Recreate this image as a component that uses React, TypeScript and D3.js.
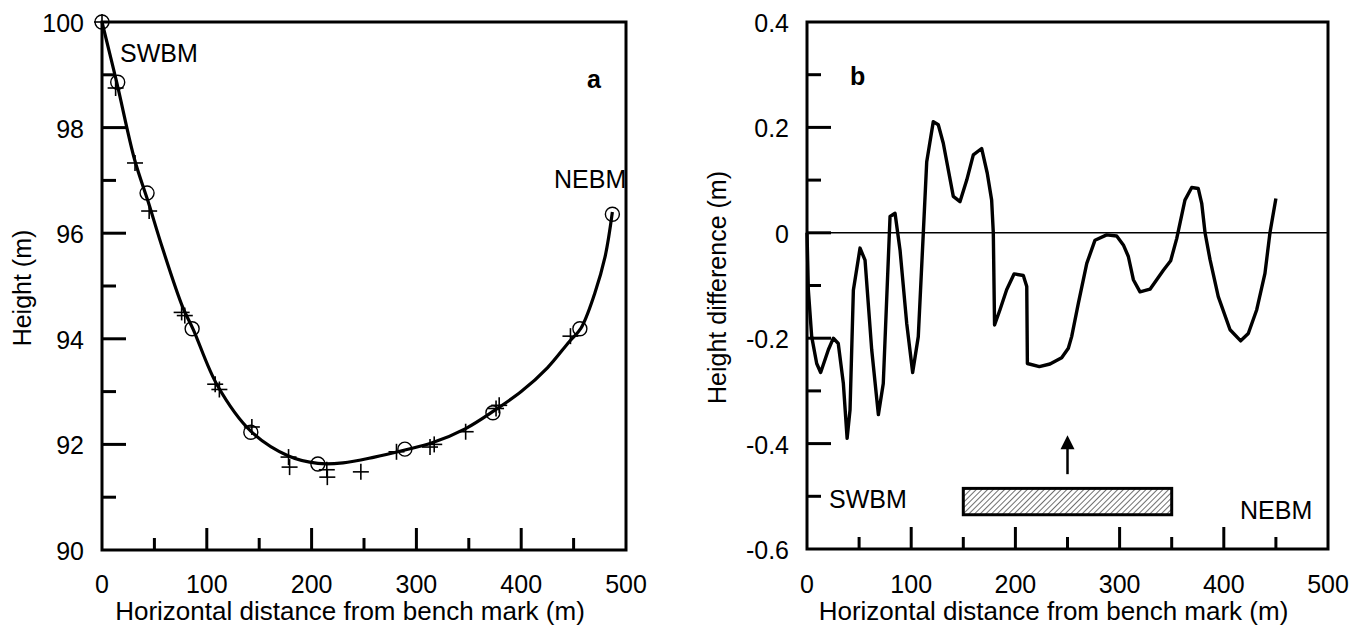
import React from "react";
import * as d3 from "d3";

// ---------- data ----------
const xTickValues = [0, 100, 200, 300, 400, 500];
const xMinorValues = [50, 150, 250, 350, 450];
const aYTickValues = [90, 92, 94, 96, 98, 100];
const aYMinorValues = [91, 93, 95, 97, 99];
const bYTickValues = [-0.6, -0.4, -0.2, 0, 0.2, 0.4];
const bYMinorValues = [-0.5, -0.3, -0.1, 0.1, 0.3];
const bYTickLabels = ["-0.6", "-0.4", "-0.2", "0", "0.2", "0.4"];

// panel a: surveyed heights (circles)
const aCircleX = [0, 15, 43, 86, 142, 206, 289, 373, 456, 487];
const aCircleY = [100, 98.86, 96.76, 94.19, 92.23, 91.63, 91.91, 92.6, 94.19, 96.36];

// panel a: levelled heights (crosses)
const aCrossX = [0, 13, 31.5, 45, 76, 79, 108, 112, 143, 178, 179, 214.5, 215, 247, 281, 313, 317, 347, 376, 379, 447];
const aCrossY = [100, 98.75, 97.33, 96.42, 94.5, 94.44, 93.14, 93.04, 92.33, 91.76, 91.57, 91.52, 91.38, 91.48, 91.86, 91.95, 92.0, 92.24, 92.68, 92.74, 94.05];

// panel a: fitted profile
const aFitX = [0, 14, 31, 44, 58, 77, 87, 110, 142, 178, 206, 230, 260, 290, 315, 347, 375, 400, 425, 446, 457, 470, 480, 487];
const aFitY = [100, 98.86, 97.4, 96.6, 95.7, 94.6, 94.18, 93.12, 92.25, 91.78, 91.64, 91.65, 91.76, 91.9, 92.03, 92.3, 92.65, 93.0, 93.45, 93.95, 94.2, 94.85, 95.55, 96.4];

// panel b: height difference
const bX = [0, 1.3, 4.5, 9.3, 13.1, 20.5, 25.3, 30, 34.9, 38.5, 41.3, 44.5, 50.9, 55.7, 62.1, 68.5, 73.2, 79.7, 84.5, 89.3, 95.7, 101.4, 106.8, 111.6, 114.9, 121.2, 126, 130.8, 140.4, 146.8, 153.3, 159.6, 167.6, 173, 177.2, 178.8, 180, 185.2, 191.6, 198.7, 207.6, 210.9, 211.5, 223, 233.2, 244.4, 250.8, 254, 260.4, 268.5, 276.4, 287.6, 297.2, 303.6, 308.4, 313.2, 319.6, 329.2, 342, 349, 354.8, 362.7, 369.2, 375.5, 378.8, 382, 386.8, 394.7, 406, 416.2, 423.5, 431.6, 439.5, 444.3, 450];
const bY = [0, -0.109, -0.197, -0.248, -0.265, -0.222, -0.2, -0.21, -0.286, -0.39, -0.336, -0.109, -0.029, -0.052, -0.222, -0.345, -0.286, 0.031, 0.037, -0.033, -0.172, -0.265, -0.197, -0.001, 0.135, 0.211, 0.205, 0.17, 0.069, 0.059, 0.1, 0.148, 0.16, 0.113, 0.062, 0.0, -0.175, -0.146, -0.108, -0.078, -0.081, -0.102, -0.248, -0.254, -0.249, -0.237, -0.219, -0.197, -0.134, -0.058, -0.014, -0.004, -0.006, -0.023, -0.045, -0.089, -0.112, -0.107, -0.071, -0.053, -0.011, 0.062, 0.086, 0.084, 0.056, 0.0, -0.051, -0.121, -0.184, -0.205, -0.191, -0.146, -0.077, 0.0, 0.065];

// panel b: annotation box and arrow (data units)
const boxX = [150, 350];
const boxY = [-0.485, -0.535];
const arrowX = 250;
const arrowY = [-0.458, -0.384];

// ---------- drawing ----------
const FONT = "'Liberation Sans', Arial, Helvetica, sans-serif";
const FS = 25;

function Frame({ x, y, xTicks, xMinor, yTicks, yMinor, yLabels, yTitle, yTitleX }: any) {
  const [x0, x1] = x.range();
  const [y0, y1] = y.range(); // y0 bottom, y1 top
  return (
    <g>
      <rect x={x0} y={y1} width={x1 - x0} height={y0 - y1} fill="none" stroke="#000" strokeWidth={3} />
      {xTicks.slice(1, -1).map((t: number) => (
        <line key={"xt" + t} x1={x(t)} x2={x(t)} y1={y0} y2={y0 - 22} stroke="#000" strokeWidth={3} />
      ))}
      {xMinor.map((t: number) => (
        <line key={"xm" + t} x1={x(t)} x2={x(t)} y1={y0} y2={y0 - 12} stroke="#000" strokeWidth={3} />
      ))}
      {yTicks.slice(1, -1).map((t: number) => (
        <line key={"yt" + t} x1={x0} x2={x0 + 24} y1={y(t)} y2={y(t)} stroke="#000" strokeWidth={3} />
      ))}
      {yMinor.map((t: number) => (
        <line key={"ym" + t} x1={x0} x2={x0 + 14} y1={y(t)} y2={y(t)} stroke="#000" strokeWidth={3} />
      ))}
      {xTicks.map((t: number) => (
        <text key={"xl" + t} x={x(t)} y={593} textAnchor="middle" fontSize={FS} fontFamily={FONT}>{t}</text>
      ))}
      {yTicks.map((t: number, i: number) => (
        <text key={"yl" + t} x={x0 - 18} y={y(t) + 10} textAnchor="end" fontSize={FS} fontFamily={FONT}>{yLabels[i]}</text>
      ))}
      <text x={(x0 + x1) / 2 - 14} y={620} textAnchor="middle" fontSize={26} fontFamily={FONT}>
        Horizontal distance from bench mark (m)
      </text>
      <text transform={`translate(${yTitleX},${(y0 + y1) / 2 + 2}) rotate(-90)`} textAnchor="middle" fontSize={FS} fontFamily={FONT}>
        {yTitle}
      </text>
    </g>
  );
}

export default function App() {
  const ax = d3.scaleLinear().domain([0, 500]).range([102, 626]);
  const ay = d3.scaleLinear().domain([90, 100]).range([550, 22]);
  const bx = d3.scaleLinear().domain([0, 500]).range([807, 1328]);
  const by = d3.scaleLinear().domain([-0.6, 0.4]).range([549, 22]);

  const fitLine = d3.line<number>()
    .x((_, i) => ax(aFitX[i]))
    .y((d) => ay(d))
    .curve(d3.curveCatmullRom.alpha(0.5));
  const bLine = d3.line<number>()
    .x((_, i) => bx(bX[i]))
    .y((d) => by(d))
    .curve(d3.curveLinear);

  const ah = by(arrowY[1]);
  const ax0 = bx(arrowX);

  return (
    <svg width={1364} height={628} style={{ position: "absolute", left: 0, top: 0, background: "#fff" }}>
      <defs>
        <pattern id="hatch" patternUnits="userSpaceOnUse" width={4} height={4} patternTransform="rotate(45)">
          <rect width={4} height={4} fill="#fff" />
          <line x1={0} y1={0} x2={0} y2={4} stroke="#222" strokeWidth={1.3} />
        </pattern>
      </defs>
      <rect width={1364} height={628} fill="#fff" />

      {/* panel a */}
      <Frame x={ax} y={ay} xTicks={xTickValues} xMinor={xMinorValues} yTicks={aYTickValues} yMinor={aYMinorValues}
        yLabels={aYTickValues.map(String)} yTitle="Height (m)" yTitleX={31} />
      <path d={fitLine(aFitY) || ""} fill="none" stroke="#000" strokeWidth={3.2} strokeLinejoin="round" />
      {aCircleY.map((v, i) => (
        <circle key={"c" + i} cx={ax(aCircleX[i])} cy={ay(v)} r={7} fill="none" stroke="#000" strokeWidth={1.4} />
      ))}
      {aCrossY.map((v, i) => {
        const cx = ax(aCrossX[i]);
        const cy = ay(v);
        return (
          <g key={"p" + i} stroke="#000" strokeWidth={1.6}>
            <line x1={cx - 8} x2={cx + 8} y1={cy} y2={cy} />
            <line x1={cx} x2={cx} y1={cy - 8} y2={cy + 8} />
          </g>
        );
      })}
      <text x={120} y={62} fontSize={FS} fontFamily={FONT}>SWBM</text>
      <text x={554} y={188} fontSize={FS} fontFamily={FONT}>NEBM</text>
      <text x={587} y={88} fontSize={FS} fontWeight="bold" fontFamily={FONT}>a</text>

      {/* panel b */}
      <Frame x={bx} y={by} xTicks={xTickValues} xMinor={xMinorValues} yTicks={bYTickValues} yMinor={bYMinorValues}
        yLabels={bYTickLabels} yTitle="Height difference (m)" yTitleX={726} />
      <line x1={bx(0)} x2={bx(500)} y1={by(0)} y2={by(0)} stroke="#000" strokeWidth={1.5} />
      <path d={bLine(bY) || ""} fill="none" stroke="#000" strokeWidth={3.4} strokeLinejoin="round" />
      <rect x={bx(boxX[0])} y={by(boxY[0])} width={bx(boxX[1]) - bx(boxX[0])} height={by(boxY[1]) - by(boxY[0])}
        fill="url(#hatch)" stroke="#000" strokeWidth={3} />
      <line x1={ax0} x2={ax0} y1={by(arrowY[0])} y2={ah + 10} stroke="#000" strokeWidth={2.5} />
      <path d={`M${ax0},${ah} L${ax0 - 7},${ah + 14} L${ax0 + 7},${ah + 14} Z`} fill="#000" />
      <text x={829} y={508} fontSize={FS} fontFamily={FONT}>SWBM</text>
      <text x={1240} y={519} fontSize={FS} fontFamily={FONT}>NEBM</text>
      <text x={850} y={85} fontSize={FS} fontWeight="bold" fontFamily={FONT}>b</text>
    </svg>
  );
}
